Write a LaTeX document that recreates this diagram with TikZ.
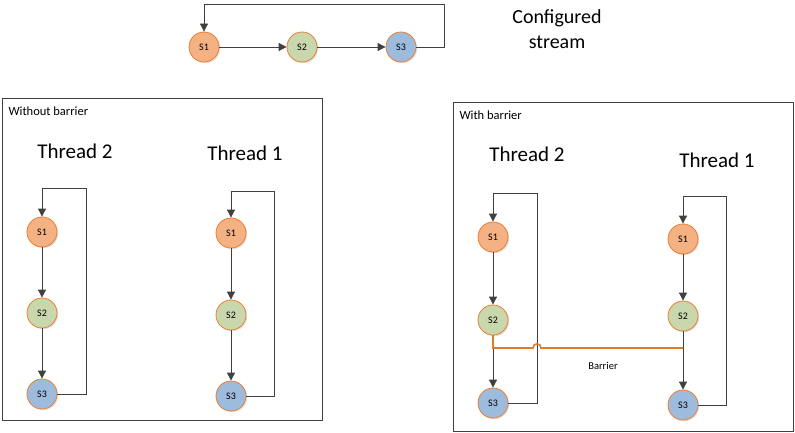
\documentclass[tikz,border=0pt]{standalone}
\usepackage{fontspec}
\setmainfont{Carlito}
\usetikzlibrary{arrows.meta,shadows}
\definecolor{ob}{HTML}{ED7D31}
\definecolor{fa}{HTML}{F4B183}
\definecolor{fb}{HTML}{C9D7AC}
\definecolor{fc}{HTML}{9DBBDD}
\definecolor{ln}{HTML}{404040}
\definecolor{bar}{HTML}{E07B28}
\tikzset{
  st/.style={circle,draw=ob,line width=0.8pt,minimum size=30pt,inner sep=0pt,font=\fontsize{10}{11}\selectfont,
    drop shadow={shadow xshift=1.2pt,shadow yshift=-1.2pt,fill=black!20,opacity=0.6}},
  sa/.style={st,fill=fa},
  sb/.style={st,fill=fb},
  sc/.style={st,fill=fc},
  arr/.style={draw=ln,line width=0.8pt,-{Triangle[length=8pt,width=8pt]}},
  frame/.style={draw=ln,line width=0.8pt},
  ttl/.style={font=\fontsize{21}{23}\selectfont},
  small/.style={font=\fontsize{12.5}{14}\selectfont,anchor=west}
}
\begin{document}
\begin{tikzpicture}[x=1pt,y=-1pt]
\useasboundingbox (0,0) rectangle (795,433);
% top stream
\node[sa] (a1) at (204,47) {S1};
\node[sb] (a2) at (302,47) {S2};
\node[sc] (a3) at (401,47) {S3};
\coordinate (ac) at (444,4);
\draw[arr] (a1) -- (a2);
\draw[arr] (a2) -- (a3);
\draw[arr] (a3.east) -| (ac) -| (a1.north);
\node[ttl,align=center,font=\fontsize{20}{25}\selectfont] (cfg) at (557,29) {Configured\\stream};
% left frame
\node[frame,minimum width=320pt,minimum height=322pt,inner sep=0pt] (lf) at (162,259) {};
\node[small] (lt) at (5,111) {Without barrier};
\node[ttl] (l2t) at (75,151) {Thread 2};
\node[ttl] (l1t) at (245,153) {Thread 1};
\node[sa] (l21) at (42,232) {S1};
\node[sb] (l22) at (42,313) {S2};
\node[sc] (l23) at (42,394) {S3};
\coordinate (l2c) at (86,188);
\draw[arr] (l21) -- (l22);
\draw[arr] (l22) -- (l23);
\draw[arr] (l23.east) -| (l2c) -| (l21.north);
\node[sa] (l11) at (231,233) {S1};
\node[sb] (l12) at (231,315) {S2};
\node[sc] (l13) at (231,396) {S3};
\coordinate (l1c) at (274,191);
\draw[arr] (l11) -- (l12);
\draw[arr] (l12) -- (l13);
\draw[arr] (l13.east) -| (l1c) -| (l11.north);
% right frame
\node[frame,minimum width=340pt,minimum height=329pt,inner sep=0pt] (rf) at (623,266.5) {};
\node[small] (rt) at (456,115) {With barrier};
\node[ttl] (r2t) at (527,154) {Thread 2};
\node[ttl] (r1t) at (717,160) {Thread 1};
\node[sa] (r21) at (493,237) {S1};
\node[sb] (r22) at (493,320) {S2};
\node[sc] (r23) at (493,403) {S3};
\coordinate (r2c) at (537,193);
\draw[arr] (r21) -- (r22);
\draw[arr] (r22) -- (r23);
\draw[arr] (r23.east) -| (r2c) -| (r21.north);
\node[sa] (r11) at (683,239) {S1};
\node[sb] (r12) at (683,316) {S2};
\node[sc] (r13) at (683,405) {S3};
\coordinate (r1c) at (726,196);
\draw[arr] (r11) -- (r12);
\draw[arr] (r12) -- (r13);
\draw[arr] (r13.east) -| (r1c) -| (r11.north);
% barrier
\coordinate (b1) at (493,348);
\coordinate (h1) at (533,348);
\coordinate (h2) at (541,348);
\coordinate (b2) at (683,348);
\draw[draw=bar,line width=1.6pt] (r22.south) -- (b1) -- (h1) .. controls (533,342.5) and (541,342.5) .. (h2) -- (b2);
\node[font=\fontsize{10.5}{12}\selectfont] (bl) at (603,366) {Barrier};
\end{tikzpicture}
\end{document}
